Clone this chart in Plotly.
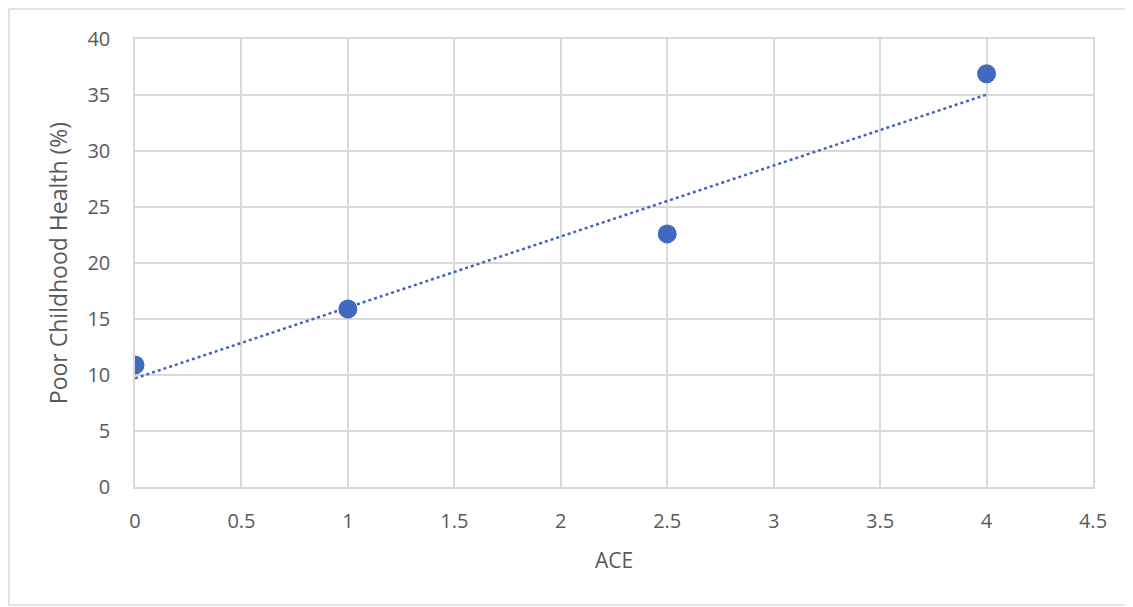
import numpy as np
import plotly.graph_objects as go

ace = [0, 1, 2.5, 4]
poor_health = [10.9, 15.9, 22.6, 36.9]
x_ticks = [0, 0.5, 1, 1.5, 2, 2.5, 3, 3.5, 4, 4.5]
x_tick_labels = ["0", "0.5", "1", "1.5", "2", "2.5", "3", "3.5", "4", "4.5"]
y_ticks = [0, 5, 10, 15, 20, 25, 30, 35, 40]

# linear trendline (least squares) over data range
slope, intercept = np.polyfit(ace, poor_health, 1)
tx = [min(ace), max(ace)]
ty = [intercept + slope * v for v in tx]

# page body has an 8px margin, so size the figure to fit the window
W, H = 1125, 599
ml, mr, mt, mb = 127, 40, 31, 120
pw, ph = W - ml - mr, H - mt - mb

fig = go.Figure()
fig.add_trace(go.Scatter(x=tx, y=ty, mode="lines",
                         line=dict(color="#3F67B5", width=2.5, dash="dot"),
                         showlegend=False, hoverinfo="skip"))
fig.add_trace(go.Scatter(x=ace, y=poor_health, mode="markers",
                         marker=dict(color="#4169BF", size=19,
                                     line=dict(width=0)),
                         showlegend=False))

font_family = "Open Sans, Liberation Sans, sans-serif"
axis_common = dict(showgrid=True, gridcolor="#d9d9d9", gridwidth=1.5,
                   showline=True, linecolor="#d9d9d9", linewidth=1.5,
                   mirror=True, zeroline=False, ticks="",
                   tickfont=dict(family=font_family, size=20, color="#595959"))

fig.update_xaxes(range=[0, 4.5], tickvals=x_ticks, ticktext=x_tick_labels,
                 title=dict(text="ACE", font=dict(family=font_family, size=21, color="#595959"),
                            standoff=21),
                 ticklabelstandoff=15, **axis_common)
fig.update_yaxes(range=[0, 40], tickvals=y_ticks,
                 title=dict(text="Poor Childhood Health (%)",
                            font=dict(family=font_family, size=23, color="#595959"),
                            standoff=13),
                 ticklabelstandoff=19, **axis_common)

# outer chart border
fig.add_shape(type="rect", xref="paper", yref="paper",
              x0=(1 - ml) / pw, x1=(1124 - ml) / pw,
              y0=(H - mb - 597) / ph, y1=(H - mb - 1) / ph,
              line=dict(color="#d9d9d9", width=1.5), fillcolor="rgba(0,0,0,0)",
              layer="below")

fig.update_layout(width=W, height=H, margin=dict(l=ml, r=mr, t=mt, b=mb),
                  plot_bgcolor="white", paper_bgcolor="white",
                  font=dict(family=font_family, color="#595959"))

fig.write_html("out.html")
